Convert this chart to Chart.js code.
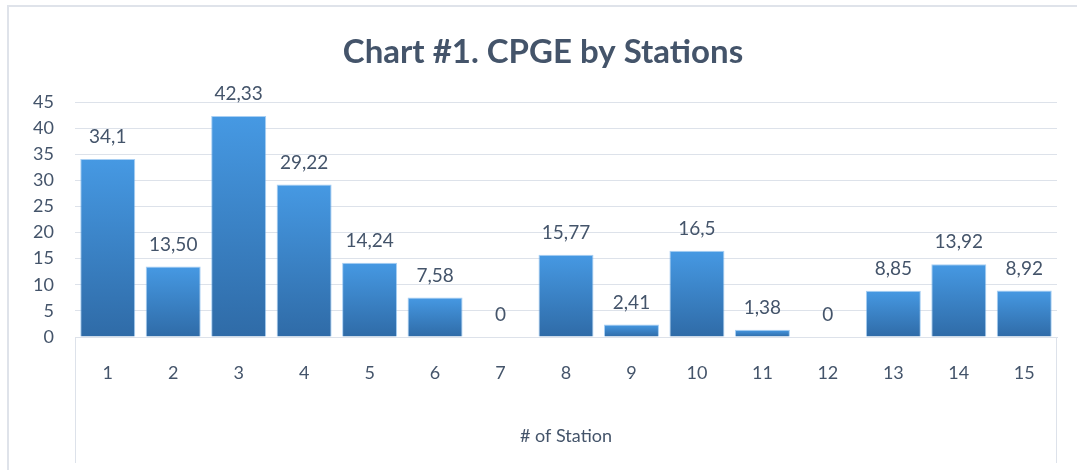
<!DOCTYPE html>
<html>
<head>
<meta charset="utf-8">
<script src="https://cdn.jsdelivr.net/npm/chart.js@4"></script>
<style>
html,body{margin:0;padding:0;background:#fff;}
#wrap{position:relative;width:1077px;height:470px;}
</style>
</head>
<body>
<div id="wrap"><canvas id="c" width="1077" height="470"></canvas></div>
<script>
const chartTitle = 'Chart #1. CPGE by Stations';
const axisTitle = '# of Station';
const categories = ['1','2','3','4','5','6','7','8','9','10','11','12','13','14','15'];
const values = [34.1, 13.50, 42.33, 29.22, 14.24, 7.58, 0, 15.77, 2.41, 16.5, 1.38, 0, 8.85, 13.92, 8.92];
const valueLabels = ['34,1','13,50','42,33','29,22','14,24','7,58','0','15,77','2,41','16,5','1,38','0','8,85','13,92','8,92'];
const yTicks = [0,5,10,15,20,25,30,35,40,45];

const TEXT = '#44546a';
const GRID = '#dde2ea';
const FONT = 'Lato, "Open Sans", sans-serif';

const framePlugin = {
  id: 'frame',
  beforeDraw(chart) {
    const ctx = chart.ctx;
    ctx.save();
    ctx.strokeStyle = '#dfe3ea';
    ctx.lineWidth = 2;
    ctx.strokeRect(8, 6, 1200, 600);
    // title
    ctx.fillStyle = TEXT;
    ctx.font = 'bold 33px ' + FONT;
    ctx.textAlign = 'center';
    ctx.textBaseline = 'alphabetic';
    ctx.fillText(chartTitle, 543, 63);
    ctx.restore();
  },
  afterDraw(chart) {
    const ctx = chart.ctx, a = chart.chartArea;
    ctx.save();
    ctx.strokeStyle = GRID;
    ctx.lineWidth = 1;
    ctx.beginPath();
    ctx.moveTo(a.left + 0.5, a.bottom);
    ctx.lineTo(a.left + 0.5, 463);
    ctx.moveTo(a.right - 0.5, a.bottom);
    ctx.lineTo(a.right - 0.5, 463);
    ctx.stroke();
    // data labels
    const meta = chart.getDatasetMeta(0);
    ctx.fillStyle = TEXT;
    ctx.font = '19px ' + FONT;
    ctx.textAlign = 'center';
    ctx.textBaseline = 'middle';
    meta.data.forEach((bar, i) => {
      ctx.fillText(valueLabels[i], bar.x, bar.y - 22);
    });
    ctx.restore();
  }
};

const ctx = document.getElementById('c').getContext('2d');
new Chart(ctx, {
  type: 'bar',
  data: {
    labels: categories,
    datasets: [{
      data: values,
      backgroundColor(context) {
        const chart = context.chart;
        if (!chart.chartArea || !chart.scales.y) return '#3d87cf';
        const y = chart.scales.y;
        const v = context.raw || 0;
        const top = y.getPixelForValue(v), bottom = y.getPixelForValue(0);
        if (!(bottom - top > 0.5)) return '#3d87cf';
        const g = chart.ctx.createLinearGradient(0, top, 0, bottom);
        g.addColorStop(0, '#4699e3');
        g.addColorStop(1, '#2f6ba7');
        return g;
      },
      borderColor: 'rgba(110,175,235,0.6)',
      borderWidth: 1,
      barPercentage: 0.84,
      categoryPercentage: 1.0
    }]
  },
  options: {
    responsive: false,
    animation: false,
    events: [],
    layout: { padding: { top: 102, left: 0, right: 20, bottom: 0 } },
    plugins: {
      legend: { display: false },
      tooltip: { enabled: false },
      title: { display: false }
    },
    scales: {
      x: {
        grid: { display: false, drawTicks: false },
        border: { display: true, color: GRID, width: 1 },
        ticks: { color: TEXT, font: { family: FONT, size: 18 }, padding: 25, maxRotation: 0 },
        title: {
          display: true, text: axisTitle, color: TEXT,
          font: { family: FONT, size: 18, lineHeight: 1.2 },
          padding: { top: 0, bottom: 23 }
        },
        afterFit(scale) { scale.height = 133; }
      },
      y: {
        min: 0, max: 45,
        afterBuildTicks(scale) { scale.ticks = yTicks.map(v => ({ value: v })); },
        grid: { color: GRID, lineWidth: 1, drawTicks: false },
        border: { display: false },
        ticks: { color: TEXT, font: { family: FONT, size: 18 }, padding: 21 },
        afterFit(scale) { scale.width = 75; }
      }
    }
  },
  plugins: [framePlugin]
});
</script>
</body>
</html>
